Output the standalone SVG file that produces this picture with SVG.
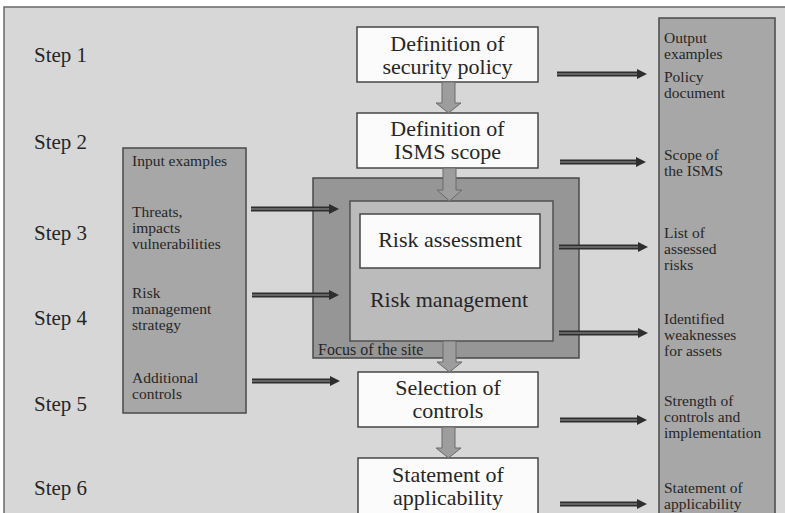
<svg xmlns="http://www.w3.org/2000/svg" width="785" height="513" viewBox="0 0 785 513">
  <style>
    text { font-family: "Liberation Serif", "Times New Roman", serif; fill: #262626; }
    .step { font-size: 21px; }
    .box { font-size: 22px; text-anchor: middle; }
    .side { font-size: 15.5px; }
    .focus { font-size: 16px; }
    .white { fill: #fbfbfb; stroke: #474747; stroke-width: 1.5; }
    .panel { fill: #a7a7a7; stroke: #4a4a4a; stroke-width: 1.5; }
    .block { fill: #9d9d9d; stroke: #6a6a6a; stroke-width: 1; }
    .rail { fill: none; stroke: #2e2e2e; stroke-width: 5; }
    .rail-core { fill: none; stroke: #9a9a9a; stroke-width: 1.2; }
  </style>
  <defs>
    <marker id="head" viewBox="0 0 10 10" refX="0" refY="5" markerWidth="10" markerHeight="10" markerUnits="userSpaceOnUse" orient="auto">
      <path d="M0,0 L10,5 L0,10 Z" fill="#2e2e2e"/>
    </marker>
  </defs>

  <!-- page background and frame -->
  <rect x="0" y="0" width="785" height="513" fill="#ffffff"/>
  <rect x="4" y="7" width="800" height="520" fill="#d7d7d7" stroke="#6a6a6a" stroke-width="1.5"/>

  <!-- step labels -->
  <g id="steps">
    <text class="step" x="34" y="62">Step 1</text>
    <text class="step" x="34" y="149">Step 2</text>
    <text class="step" x="34" y="240">Step 3</text>
    <text class="step" x="34" y="325">Step 4</text>
    <text class="step" x="34" y="411">Step 5</text>
    <text class="step" x="34" y="495">Step 6</text>
  </g>

  <!-- input examples panel -->
  <g id="inputs">
    <rect class="panel" x="123" y="148" width="123" height="265"/>
    <text class="side" x="132" y="166">Input examples</text>
    <text class="side" x="132" y="217">Threats,</text>
    <text class="side" x="132" y="233">impacts</text>
    <text class="side" x="132" y="249">vulnerabilities</text>
    <text class="side" x="132" y="298">Risk</text>
    <text class="side" x="132" y="314">management</text>
    <text class="side" x="132" y="330">strategy</text>
    <text class="side" x="132" y="383">Additional</text>
    <text class="side" x="132" y="399">controls</text>
  </g>

  <!-- output examples panel -->
  <g id="outputs">
    <rect class="panel" x="659" y="18" width="116" height="520"/>
    <text class="side" x="664" y="43">Output</text>
    <text class="side" x="664" y="59">examples</text>
    <text class="side" x="664" y="82">Policy</text>
    <text class="side" x="664" y="98">document</text>
    <text class="side" x="664" y="160">Scope of</text>
    <text class="side" x="664" y="176">the ISMS</text>
    <text class="side" x="664" y="238">List of</text>
    <text class="side" x="664" y="254">assessed</text>
    <text class="side" x="664" y="270">risks</text>
    <text class="side" x="664" y="324">Identified</text>
    <text class="side" x="664" y="340">weaknesses</text>
    <text class="side" x="664" y="356">for assets</text>
    <text class="side" x="664" y="406">Strength of</text>
    <text class="side" x="664" y="422">controls and</text>
    <text class="side" x="664" y="438">implementation</text>
    <text class="side" x="664" y="493">Statement of</text>
    <text class="side" x="664" y="509">applicability</text>
  </g>

  <!-- focus of the site -->
  <g id="focus">
    <rect x="313" y="178" width="266" height="180" fill="#969696" stroke="#4a4a4a" stroke-width="1.5"/>
    <text class="focus" x="318" y="355">Focus of the site</text>
  </g>
  <g id="risk-management">
    <rect x="350" y="201" width="203" height="140" fill="#bbbbbb" stroke="#505050" stroke-width="1.5"/>
    <text class="box" x="449" y="307">Risk management</text>
  </g>
  <g id="risk-assessment">
    <rect class="white" x="360" y="214" width="180" height="54"/>
    <text class="box" x="450" y="247">Risk assessment</text>
  </g>

  <!-- process steps -->
  <g id="security-policy">
    <rect class="white" x="357" y="27" width="181" height="55"/>
    <text class="box" x="447.5" y="51">Definition of</text>
    <text class="box" x="447.5" y="74">security policy</text>
  </g>
  <g id="isms-scope">
    <rect class="white" x="357" y="113" width="181" height="55"/>
    <text class="box" x="447.5" y="136">Definition of</text>
    <text class="box" x="447.5" y="159">ISMS scope</text>
  </g>
  <g id="selection-of-controls">
    <rect class="white" x="358" y="372" width="180" height="55"/>
    <text class="box" x="448" y="395">Selection of</text>
    <text class="box" x="448" y="418">controls</text>
  </g>
  <g id="statement-of-applicability">
    <rect class="white" x="358" y="458" width="180" height="70"/>
    <text class="box" x="448" y="482">Statement of</text>
    <text class="box" x="448" y="505">applicability</text>
  </g>

  <g id="connectors">
    <!-- block arrows down the process -->
    <path class="block" d="M442,82 H455 V103 H461 L448.5,113 L436,103 H442 Z"/>
    <path class="block" d="M443,168 H456 V190 H462 L449.5,201 L437,190 H443 Z"/>
    <path class="block" d="M443,341 H456 V362 H462 L449.5,372 L437,362 H443 Z"/>
    <path class="block" d="M442,427 H455 V448 H461 L448.5,458 L436,448 H442 Z"/>

    <!-- inputs -->
    <path class="rail" d="M251,209 H329" marker-end="url(#head)"/>
    <path class="rail-core" d="M251,209 H329"/>
    <path class="rail" d="M252,295 H329" marker-end="url(#head)"/>
    <path class="rail-core" d="M252,295 H329"/>
    <path class="rail" d="M252,381 H330" marker-end="url(#head)"/>
    <path class="rail-core" d="M252,381 H330"/>

    <!-- outputs -->
    <path class="rail" d="M557,74 H637" marker-end="url(#head)"/>
    <path class="rail-core" d="M557,74 H637"/>
    <path class="rail" d="M560,162 H636" marker-end="url(#head)"/>
    <path class="rail-core" d="M560,162 H636"/>
    <path class="rail" d="M559,247 H638" marker-end="url(#head)"/>
    <path class="rail-core" d="M559,247 H638"/>
    <path class="rail" d="M559,333 H638" marker-end="url(#head)"/>
    <path class="rail-core" d="M559,333 H638"/>
    <path class="rail" d="M560,420 H637" marker-end="url(#head)"/>
    <path class="rail-core" d="M560,420 H637"/>
    <path class="rail" d="M560,504 H637" marker-end="url(#head)"/>
    <path class="rail-core" d="M560,504 H637"/>
  </g>
</svg>
